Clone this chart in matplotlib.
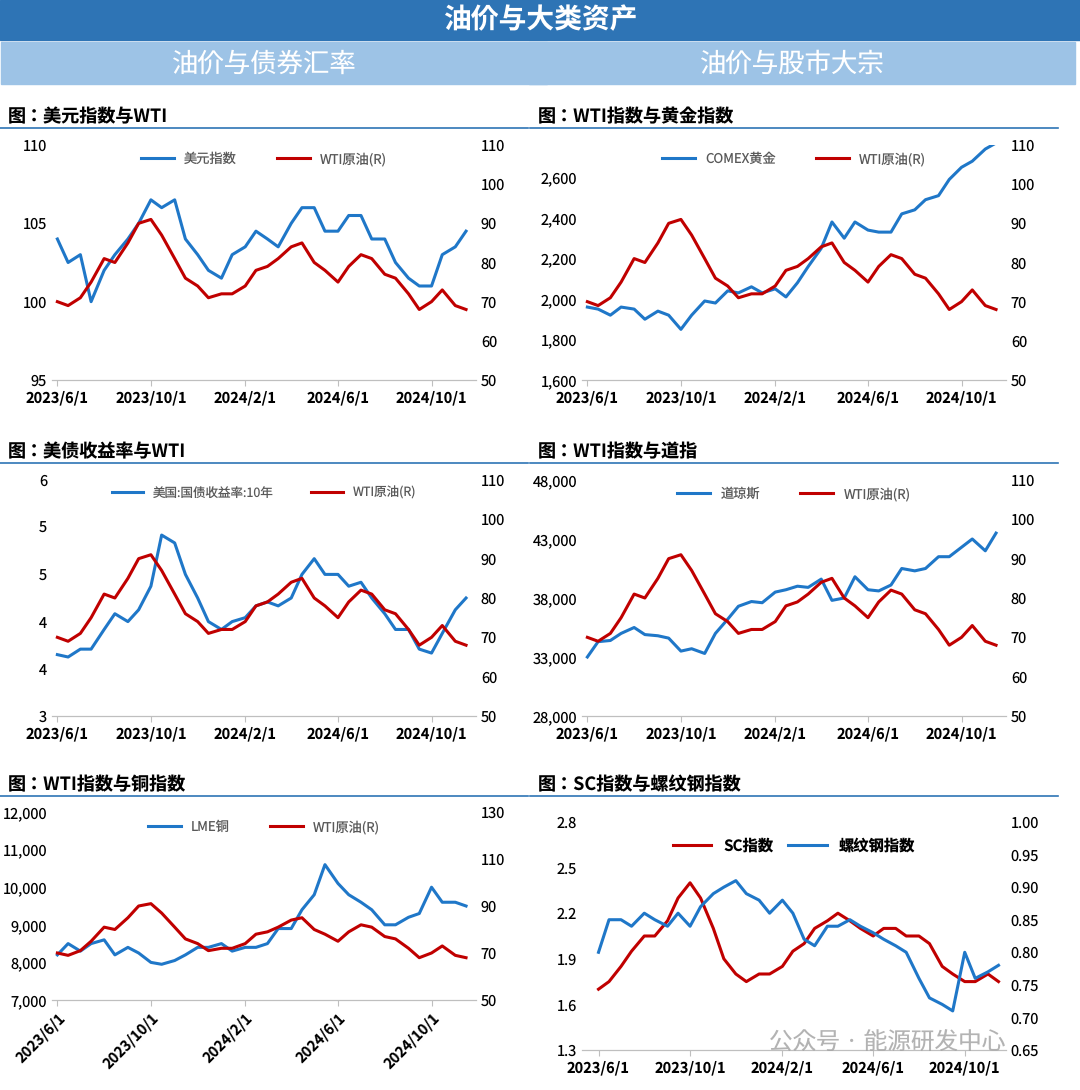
import pandas as pd
import matplotlib
matplotlib.use('Agg')
import matplotlib.pyplot as plt
from matplotlib.patches import Rectangle
from matplotlib.ticker import FormatStrFormatter

plt.rcParams['font.family'] = 'Noto Sans CJK JP'
plt.rcParams['text.hinting'] = 'no_hinting'

# semi-monthly sample dates, 2023/6/1 .. 2024/11/15
dates = pd.to_datetime([f'{y}-{m:02d}-{d:02d}' for y, m in
                        [(2023, m) for m in range(6, 13)] + [(2024, m) for m in range(1, 12)]
                        for d in (1, 15)])

wti = [70, 69, 71, 75, 81, 80, 85, 90, 91, 87, 81, 76, 74, 71, 72, 72, 74, 78,
       79, 81, 84, 85, 80, 78, 75, 79, 82, 81, 77, 76, 72, 68, 70, 73, 69, 68]
dxy = [104, 102.5, 103, 100, 102, 103, 104, 105, 106.5, 106, 106.5, 104, 103, 102, 101.5, 103, 103.5, 104.5,
       104, 103.5, 105, 106, 106, 104.5, 104.5, 105.5, 105.5, 104, 104, 102.5, 101.5, 101, 101, 103, 103.5, 104.5]
gold = [1960, 1950, 1920, 1960, 1950, 1900, 1940, 1920, 1850, 1920, 1990, 1980, 2040, 2030, 2060, 2030, 2050, 2010,
        2080, 2160, 2250, 2380, 2300, 2380, 2340, 2330, 2330, 2420, 2440, 2490, 2510, 2590, 2650, 2680, 2740, 2770]
ust10 = [3.78, 3.75, 3.85, 3.85, 4.1, 4.3, 4.2, 4.35, 4.65, 5.3, 5.2, 4.8, 4.5, 4.2, 4.1, 4.2, 4.25, 4.4,
         4.45, 4.4, 4.5, 4.8, 5.0, 4.8, 4.8, 4.65, 4.7, 4.5, 4.3, 4.1, 4.1, 3.85, 3.8, 4.05, 4.35, 4.5]
dow = [33000, 34300, 34400, 35000, 35500, 34900, 34800, 34600, 33500, 33700, 33300, 35000, 36200, 37300, 37700, 37600,
       38500, 38700, 39000, 38900, 39600, 37800, 38000, 39800, 38700, 38600, 39100, 40500, 40300, 40500, 41500, 41500,
       42300, 43000, 42000, 43500]
copper = [8200, 8500, 8300, 8500, 8600, 8200, 8400, 8250, 8000, 7950, 8050, 8200, 8400, 8400, 8500, 8300, 8400, 8400,
          8500, 8900, 8900, 9400, 9800, 10600, 10100, 9800, 9600, 9400, 9000, 9000, 9200, 9300, 10000, 9600, 9600, 9500]
sc = [1.7, 1.75, 1.85, 1.95, 2.05, 2.05, 2.15, 2.3, 2.4, 2.3, 2.1, 1.9, 1.8, 1.75, 1.8, 1.8, 1.85, 1.95,
      2.0, 2.1, 2.15, 2.2, 2.15, 2.1, 2.05, 2.1, 2.1, 2.05, 2.05, 2.0, 1.85, 1.8, 1.75, 1.75, 1.8, 1.75]
rebar = [0.80, 0.85, 0.85, 0.84, 0.86, 0.85, 0.84, 0.86, 0.84, 0.87, 0.89, 0.90, 0.91, 0.89, 0.88, 0.86, 0.88, 0.86,
         0.82, 0.81, 0.84, 0.84, 0.85, 0.84, 0.83, 0.82, 0.81, 0.80, 0.76, 0.73, 0.72, 0.71, 0.80, 0.76, 0.77, 0.78]

xticks = pd.to_datetime(['2023-06-01', '2023-10-01', '2024-02-01', '2024-06-01', '2024-10-01'])
xlabels = ['2023/6/1', '2023/10/1', '2024/2/1', '2024/6/1', '2024/10/1']

BLUE = '#1f77c8'
RED = '#c00000'
W, H = 1080, 1090
fig = plt.figure(figsize=(W / 100, H / 100), dpi=100)


def box(x, y, w, h):
    return [x / W, 1 - (y + h) / H, w / W, h / H]


# header bars
fig.patches.append(Rectangle((0, 1 - 40 / H), 1, 40 / H, transform=fig.transFigure, color='#2e74b5'))
fig.text(0.5, 1 - 20 / H, '油价与大类资产', color='white', fontsize=20, fontweight='bold', ha='center', va='center')
for x0, txt in [(0, '油价与债券汇率'), (528, '油价与股市大宗')]:
    fig.patches.append(Rectangle((x0 / W + 0.001, 1 - 84 / H), 550 / W - 0.004, 42 / H,
                                 transform=fig.transFigure, color='#9dc3e6'))
    fig.text((x0 + 264) / W, 1 - 64 / H, txt, color='white', fontsize=19, ha='center', va='center')


def panel(x, ytitle, title, left, lname, llim, lticks, lfmt, rlim, rticks, right=wti, rname='WTI原油(R)',
          top=None, bottom=None, rot=0, lcolor=BLUE, rcolor=RED):
    fig.text((x + 8) / W, 1 - ytitle / H, title, fontsize=13, fontweight='bold', va='center')
    fig.add_artist(plt.Line2D([x / W, (x + 528) / W], [1 - (ytitle + 11) / H] * 2, color='#2e74b5', lw=1.2))
    ax = fig.add_axes(box(x + 52, top, 424, bottom - top))
    ax2 = ax.twinx()
    l1, = ax.plot(dates, left, color=lcolor, lw=2.2, label=lname)
    l2, = ax2.plot(dates, right, color=rcolor, lw=2.2, label=rname)
    ax.set_ylim(*llim)
    ax.set_yticks(lticks)
    ax.set_yticklabels([lfmt(v) for v in lticks])
    ax2.set_ylim(*rlim)
    ax2.set_yticks(rticks)
    ax.set_xlim(pd.Timestamp('2023-05-25'), pd.Timestamp('2024-11-28'))
    ax.set_xticks(xticks)
    ax.set_xticklabels(xlabels, fontweight='bold', rotation=rot, ha='right' if rot else 'center',
                       rotation_mode='anchor' if rot else 'default')
    for a in (ax, ax2):
        for s in ('top', 'left', 'right'):
            a.spines[s].set_visible(False)
        a.spines['bottom'].set_color('#bfbfbf')
        a.tick_params(length=0, labelsize=10.5)
    ax.tick_params(axis='x', length=4, color='#bfbfbf')
    return ax, ax2, [l1, l2]


def legend(ax, lines, fs=9.5):
    ax.legend(lines, [l.get_label() for l in lines], loc='upper center', bbox_to_anchor=(0.5, 1.02), ncol=2,
              frameon=False, fontsize=fs, labelcolor='#595959', handlelength=2.5, columnspacing=3)


ax, _, ls = panel(0, 117, '图：美元指数与WTI', dxy, '美元指数', (95, 110), [95, 100, 105, 110], lambda v: f'{v:.0f}',
                  (50, 110), [50, 60, 70, 80, 90, 100, 110], top=145, bottom=380)
legend(ax, ls)
ax, _, ls = panel(530, 117, '图：WTI指数与黄金指数', gold, 'COMEX黄金', (1600, 2760),
                  [1600, 1800, 2000, 2200, 2400, 2600], lambda v: f'{v:,.0f}',
                  (50, 110), [50, 60, 70, 80, 90, 100, 110], top=145, bottom=380)
legend(ax, ls)
ax, _, ls = panel(0, 452, '图：美债收益率与WTI', ust10, '美国:国债收益率:10年', (3, 6), [3, 3.6, 4.2, 4.8, 5.4, 6],
                  lambda v: f'{round(v + 1e-9):.0f}', (50, 110), [50, 60, 70, 80, 90, 100, 110], top=480, bottom=716)
legend(ax, ls, fs=9)
ax, _, ls = panel(530, 452, '图：WTI指数与道指', dow, '道琼斯', (28000, 48000), [28000, 33000, 38000, 43000, 48000],
                  lambda v: f'{v:,.0f}', (50, 110), [50, 60, 70, 80, 90, 100, 110], top=480, bottom=716)
legend(ax, ls)
ax, _, ls = panel(0, 785, '图：WTI指数与铜指数', copper, 'LME铜', (7000, 12000), list(range(7000, 12001, 1000)),
                  lambda v: f'{v:,.0f}', (50, 130), [50, 70, 90, 110, 130], top=812, bottom=1000, rot=45)
legend(ax, ls)
ax, ax2, ls = panel(530, 785, '图：SC指数与螺纹钢指数', sc, 'SC指数', (1.3, 2.8), [1.3, 1.6, 1.9, 2.2, 2.5, 2.8],
                    lambda v: f'{v:.1f}', (0.65, 1.0), [0.65, 0.7, 0.75, 0.8, 0.85, 0.9, 0.95, 1.0],
                    right=rebar, rname='螺纹钢指数', top=822, bottom=1050, lcolor=RED, rcolor=BLUE)
ax2.yaxis.set_major_formatter(FormatStrFormatter('%.2f'))
ax.set_xlim(pd.Timestamp('2023-05-10'), pd.Timestamp('2024-11-25'))
ax.legend(ls, [l.get_label() for l in ls], loc='upper center', bbox_to_anchor=(0.5, 0.99), ncol=2, frameon=False,
          prop={'size': 11, 'weight': 'bold'}, handlelength=2.5, columnspacing=1)

fig.text(1005 / W, 1 - 1043 / H, '公众号 · 能源研发中心', fontsize=17, color='#a0a0a0', ha='right', va='center', alpha=0.8)

plt.savefig('out.png', dpi=100)
plt.close()
